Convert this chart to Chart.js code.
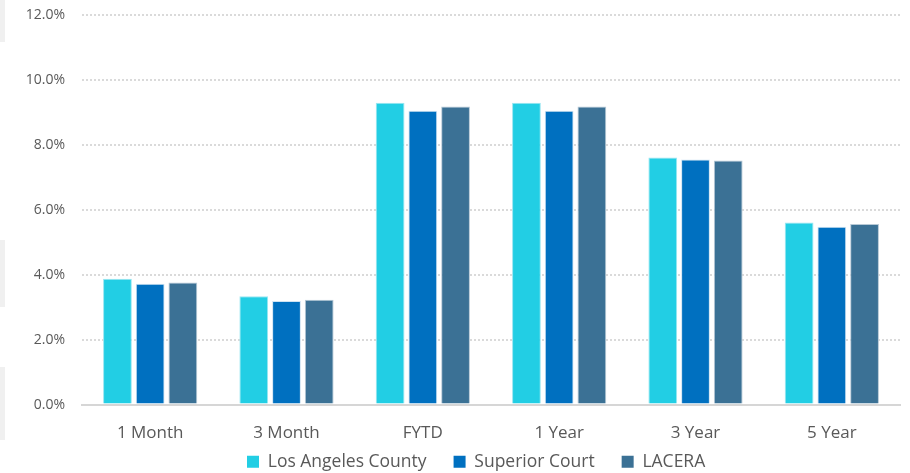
<!DOCTYPE html>
<html>
<head>
<meta charset="utf-8">
<script src="https://cdn.jsdelivr.net/npm/chart.js@4"></script>
<style>
  body { margin: 0; background: #fff; }
  #wrap { position: relative; width: 910px; height: 473px; }
  .edge { position: absolute; left: 0; width: 5px; background: #f0f0f0; }
</style>
</head>
<body>
<div id="wrap">
  <div class="edge" style="top:0;height:42px"></div>
  <div class="edge" style="top:240px;height:67px"></div>
  <div class="edge" style="top:367px;height:73px"></div>
  <canvas id="grafico" width="910" height="473"></canvas>
</div>
<script>
// periodos y rendimientos (%)
const periodos = ['1 Month', '3 Month', 'FYTD', '1 Year', '3 Year', '5 Year'];
const losAngeles = [3.88, 3.34, 9.30, 9.30, 7.61, 5.61];
const superiorCourt = [3.72, 3.19, 9.05, 9.05, 7.55, 5.48];
const lacera = [3.76, 3.23, 9.18, 9.18, 7.52, 5.56];
const ticksY = [0, 2, 4, 6, 8, 10, 12];

const fuente = "'Open Sans', 'Noto Sans', sans-serif";

// la leyenda ocupa poco alto en el layout y luego se recoloca abajo
const moverLeyenda = {
    id: 'moverLeyenda',
    afterLayout: function (chart) {
        const ley = chart.legend;
        if (!ley) return;
        ley.top = 426;
        ley.left = 220;
    }
};

var ctx = document.getElementById('grafico').getContext('2d');
let miGrafico = new Chart(ctx, {
    type: 'bar',
    data: {
        labels: periodos,
        datasets: [
            {
                label: 'Los Angeles County',
                data: losAngeles,
                backgroundColor: '#22cee4',
                borderColor: '#9be6f1',
                borderWidth: 1
            },
            {
                label: 'Superior Court',
                data: superiorCourt,
                backgroundColor: '#0070c0',
                borderColor: '#cfe3f2',
                borderWidth: 1
            },
            {
                label: 'LACERA',
                data: lacera,
                backgroundColor: '#3b7195',
                borderColor: '#b7c9d6',
                borderWidth: 1
            }
        ]
    },
    plugins: [moverLeyenda],
    options: {
        responsive: false,
        animation: false,
        layout: { padding: { left: 0, right: 10, top: 15, bottom: 0 } },
        datasets: {
            bar: { categoryPercentage: 0.72, barPercentage: 0.88 }
        },
        scales: {
            x: {
                grid: { display: false },
                border: { display: true, color: '#d6d6d6', width: 2 },
                ticks: {
                    color: '#595959',
                    font: { family: fuente, size: 17 },
                    padding: 10
                }
            },
            y: {
                min: 0,
                max: 12,
                afterBuildTicks: function (eje) {
                    eje.ticks = ticksY.map(v => ({ value: v }));
                },
                afterFit: function (eje) {
                    eje.width = 82;
                    eje.paddingTop = 0;
                    eje.paddingBottom = 0;
                },
                grid: {
                    drawTicks: false,
                    lineWidth: 2,
                    color: c => c.tick && c.tick.value === 0 ? 'rgba(0,0,0,0)' : '#dadada'
                },
                border: { display: false, dash: [2, 2] },
                ticks: {
                    color: '#595959',
                    font: { family: fuente, size: 14 },
                    padding: 17,
                    callback: v => v.toFixed(1) + '%'
                }
            }
        },
        plugins: {
            tooltip: { enabled: false },
            legend: {
                position: 'bottom',
                align: 'start',
                maxHeight: 20,
                labels: {
                    color: '#595959',
                    font: { family: fuente, size: 17.5 },
                    boxWidth: 12,
                    boxHeight: 12,
                    padding: 27,
                    generateLabels: function (chart) {
                        return chart.data.datasets.map((ds, i) => ({
                            text: ds.label,
                            fillStyle: ds.backgroundColor,
                            strokeStyle: ds.backgroundColor,
                            lineWidth: 0,
                            datasetIndex: i,
                            fontColor: '#595959'
                        }));
                    }
                }
            }
        }
    }
});
</script>
</body>
</html>
